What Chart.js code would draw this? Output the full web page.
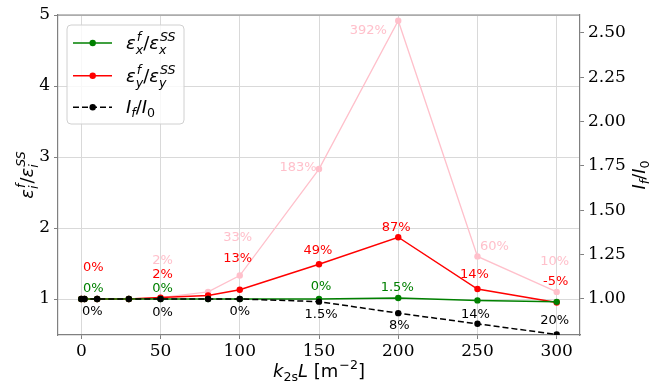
<!DOCTYPE html>
<html lang="en">
<head>
<meta charset="UTF-8">
<title>Strain ratio and intensity vs k2s L</title>
<script src="https://cdn.jsdelivr.net/npm/chart.js@4.4.1/dist/chart.umd.min.js"></script>
<style>
  body { margin: 0; background: #fff; }
  #wrap { width: 660px; height: 385px; }
</style>
</head>
<body>
<div id="wrap"><canvas id="chart" width="660" height="385"></canvas></div>
<script>
// k2s*L values (m^-2)
const kL = [0, 2, 10, 30, 50, 80, 100, 150, 200, 250, 300];

// strain ratios eps_f / eps_SS
const epsX = [1, 1, 1, 1, 1, 1, 1, 1, 1.015, 0.98, 0.96];
const epsY = [1, 1, 1, 1, 1.02, 1.05, 1.13, 1.49, 1.87, 1.14, 0.95];
const epsYPeak = [1, 1, 1, 1, 1.02, 1.10, 1.33, 2.83, 4.92, 1.60, 1.10];

// intensity ratio I_f / I_0 (right axis)
const intensity = [1, 1, 1, 1, 1, 1, 1, 0.985, 0.92, 0.86, 0.80];

// percentage annotations, one slot per kL entry
const epsXPct = ['0%', null, null, null, '0%', null, null, '0%', '1.5%', null, null];
const epsYPct = ['0%', null, null, null, '2%', null, '13%', '49%', '87%', '14%', '-5%'];
const epsYPeakPct = [null, null, null, null, '2%', null, '33%', '183%', '392%', '60%', '10%'];
const intensityPct = ['0%', null, null, null, '0%', null, '0%', '1.5%', '8%', '14%', '20%'];

// axis ticks
const xTicks = [0, 50, 100, 150, 200, 250, 300];
const yTicks = [1, 2, 3, 4, 5];
const y2Ticks = [1.00, 1.25, 1.50, 1.75, 2.00, 2.25, 2.50];

const GREEN = '#008000', RED = '#ff0000', PINK = '#ffc0cb', BLACK = '#000000';
const SPINE = '#808080', GRID = '#d9d9d9';
const tickFont = { family: '"DejaVu Serif", serif', size: 17 };

const pts = arr => kL.map((x, i) => ({ x: x, y: arr[i] }));

// simple mathtext: base glyphs with stacked super/subscripts
function mfont(it, size) {
  return (it ? 'italic ' : '') + size + 'px "DejaVu Sans"';
}
function layoutMath(ctx, tokens, size) {
  let w = 0;
  const items = [];
  const ss = size * 0.7;
  tokens.forEach(tk => {
    ctx.font = mfont(tk.it, size);
    items.push({ text: tk.t, it: tk.it, x: w, dy: 0, size: size });
    w += ctx.measureText(tk.t).width;
    let sw = 0;
    if (tk.sup) {
      const it = tk.supIt !== undefined ? tk.supIt : tk.it;
      ctx.font = mfont(it, ss);
      items.push({ text: tk.sup, it: it, x: w + 1, dy: -size * 0.42, size: ss });
      sw = Math.max(sw, ctx.measureText(tk.sup).width + 1);
    }
    if (tk.sub) {
      const it = tk.subIt !== undefined ? tk.subIt : tk.it;
      ctx.font = mfont(it, ss);
      items.push({ text: tk.sub, it: it, x: w, dy: size * (tk.sup ? 0.3 : 0.22), size: ss });
      sw = Math.max(sw, ctx.measureText(tk.sub).width);
    }
    w += sw;
  });
  return { items: items, width: w };
}
function drawMath(ctx, tokens, x, y, size, align, color) {
  const lay = layoutMath(ctx, tokens, size);
  const x0 = align === 'center' ? x - lay.width / 2 : x;
  ctx.fillStyle = color || '#000';
  ctx.textAlign = 'left';
  ctx.textBaseline = 'alphabetic';
  lay.items.forEach(it => {
    ctx.font = mfont(it.it, it.size);
    ctx.fillText(it.text, x0 + it.x, y + it.dy);
  });
}

const legendX = [{ t: 'ε', it: true, sup: 'f', sub: 'x' }, { t: '/', it: false }, { t: 'ε', it: true, sup: 'SS', sub: 'x' }];
const legendY = [{ t: 'ε', it: true, sup: 'f', sub: 'y' }, { t: '/', it: false }, { t: 'ε', it: true, sup: 'SS', sub: 'y' }];
const legendI = [{ t: 'I', it: true, sub: 'f' }, { t: '/', it: false }, { t: 'I', it: true, sub: '0', subIt: false }];
const leftTitle = [{ t: 'ε', it: true, sup: 'f', sub: 'i' }, { t: '/', it: false }, { t: 'ε', it: true, sup: 'SS', sub: 'i' }];
const bottomTitle = [{ t: 'k', it: true, sub: '2s', subIt: false }, { t: 'L', it: true }, { t: ' [m', it: false, sup: '−2' }, { t: ']', it: false }];

// label offsets (px) from each annotated point
const labelOffsets = {
  epsX: { 0: [12, -10], 4: [2, -10], 7: [2, -12], 8: [-1, -10] },
  epsY: { 0: [12, -31], 4: [2, -23], 6: [-2, -31], 7: [-1, -14], 8: [-2, -10], 9: [-3, -14], 10: [-1, -21] },
  epsYPeak: { 4: [2, -37], 6: [-2, -38], 7: [-21, -1], 8: [-30, 10], 9: [17, -10], 10: [-2, -30] },
  intensity: { 0: [11, 13], 4: [2, 14], 6: [0, 13], 7: [2, 13], 8: [1, 12.5], 9: [-2, -9], 10: [-2, -14] }
};

const decorPlugin = {
  id: 'decor',
  afterDatasetsDraw(chart) {
    const ctx = chart.ctx;
    const a = chart.chartArea;
    const sx = chart.scales.x, sy = chart.scales.y, sy2 = chart.scales.y2;
    // top spine
    ctx.save();
    ctx.strokeStyle = SPINE;
    ctx.lineWidth = 1.2;
    ctx.beginPath();
    ctx.moveTo(a.left, a.top);
    ctx.lineTo(a.right, a.top);
    ctx.stroke();

    // percentage labels
    const groups = [
      { pct: epsYPeakPct, vals: epsYPeak, off: labelOffsets.epsYPeak, color: PINK, scale: sy },
      { pct: epsYPct, vals: epsY, off: labelOffsets.epsY, color: RED, scale: sy },
      { pct: epsXPct, vals: epsX, off: labelOffsets.epsX, color: GREEN, scale: sy },
      { pct: intensityPct, vals: intensity, off: labelOffsets.intensity, color: BLACK, scale: sy2 }
    ];
    ctx.font = '13px "DejaVu Sans"';
    ctx.textAlign = 'center';
    ctx.textBaseline = 'middle';
    groups.forEach(g => {
      g.pct.forEach((txt, i) => {
        if (!txt) return;
        const o = g.off[i] || [0, -12];
        ctx.fillStyle = g.color;
        ctx.fillText(txt, sx.getPixelForValue(kL[i]) + o[0], g.scale.getPixelForValue(g.vals[i]) + o[1]);
      });
    });
    ctx.restore();
  },
  afterDraw(chart) {
    const ctx = chart.ctx;
    const a = chart.chartArea;
    ctx.save();
    // legend box
    const bx = 67, by = 25, bw = 117, bh = 99, r = 4;
    ctx.beginPath();
    ctx.moveTo(bx + r, by);
    ctx.arcTo(bx + bw, by, bx + bw, by + bh, r);
    ctx.arcTo(bx + bw, by + bh, bx, by + bh, r);
    ctx.arcTo(bx, by + bh, bx, by, r);
    ctx.arcTo(bx, by, bx + bw, by, r);
    ctx.closePath();
    ctx.fillStyle = 'rgba(255,255,255,0.8)';
    ctx.fill();
    ctx.strokeStyle = '#d0d0d0';
    ctx.lineWidth = 1;
    ctx.stroke();

    const rows = [
      { y: 43, color: GREEN, dash: [], label: legendX },
      { y: 75.7, color: RED, dash: [], label: legendY },
      { y: 107.3, color: BLACK, dash: [6, 3], label: legendI }
    ];
    rows.forEach(row => {
      ctx.strokeStyle = row.color;
      ctx.lineWidth = 1.5;
      ctx.setLineDash(row.dash);
      ctx.beginPath();
      ctx.moveTo(73, row.y);
      ctx.lineTo(112, row.y);
      ctx.stroke();
      ctx.setLineDash([]);
      ctx.fillStyle = row.color;
      ctx.beginPath();
      ctx.arc(92.7, row.y, 3.2, 0, Math.PI * 2);
      ctx.fill();
      drawMath(ctx, row.label, 126, row.y + 6, 18, 'left');
    });

    // axis titles
    drawMath(ctx, bottomTitle, (a.left + a.right) / 2, 377, 18, 'center');
    ctx.save();
    ctx.translate(33, (a.top + a.bottom) / 2);
    ctx.rotate(-Math.PI / 2);
    drawMath(ctx, leftTitle, 0, 0, 18, 'center');
    ctx.restore();
    ctx.save();
    ctx.translate(645, (a.top + a.bottom) / 2);
    ctx.rotate(-Math.PI / 2);
    drawMath(ctx, legendI, 0, 0, 18, 'center');
    ctx.restore();
    ctx.restore();
  }
};

function line(data, color, axis, order, extra) {
  return Object.assign({
    data: pts(data),
    borderColor: color,
    backgroundColor: color,
    pointBackgroundColor: color,
    pointBorderWidth: 0,
    pointRadius: 3.2,
    borderWidth: 1.5,
    yAxisID: axis,
    order: order,
    clip: 0,
    tension: 0
  }, extra || {});
}

new Chart(document.getElementById('chart'), {
  type: 'line',
  data: {
    datasets: [
      line(intensity, BLACK, 'y2', 0, { borderDash: [6, 3] }),
      line(epsX, GREEN, 'y', 1),
      line(epsY, RED, 'y', 2),
      line(epsYPeak, PINK, 'y', 3, { borderWidth: 1.3 })
    ]
  },
  options: {
    responsive: false,
    animation: false,
    events: [],
    layout: { padding: { top: 15, left: 0, right: 0, bottom: 0 } },
    plugins: { legend: { display: false }, tooltip: { enabled: false } },
    scales: {
      x: {
        type: 'linear',
        min: -14.7,
        max: 314.7,
        afterBuildTicks: s => { s.ticks = xTicks.map(v => ({ value: v })); },
        afterFit: s => { s.height = 50; },
        ticks: { font: tickFont, color: '#000', padding: 2, maxRotation: 0 },
        grid: { color: GRID, lineWidth: 1, tickLength: 4, tickColor: SPINE },
        border: { color: SPINE, width: 1.2 }
      },
      y: {
        position: 'left',
        min: 0.493,
        max: 5,
        afterBuildTicks: s => { s.ticks = yTicks.map(v => ({ value: v })); },
        afterFit: s => { s.width = 58; },
        ticks: { font: tickFont, color: '#000', padding: 4 },
        grid: { color: GRID, lineWidth: 1, tickLength: 4, tickColor: SPINE },
        border: { color: SPINE, width: 1.2 }
      },
      y2: {
        position: 'right',
        min: 0.797,
        max: 2.60,
        afterBuildTicks: s => { s.ticks = y2Ticks.map(v => ({ value: v })); },
        afterFit: s => { s.width = 80; },
        ticks: { font: tickFont, color: '#000', padding: 4, callback: v => v.toFixed(2) },
        grid: { drawOnChartArea: false, tickLength: 4, tickColor: SPINE },
        border: { color: SPINE, width: 1.2 }
      }
    }
  },
  plugins: [decorPlugin]
});
</script>
</body>
</html>
